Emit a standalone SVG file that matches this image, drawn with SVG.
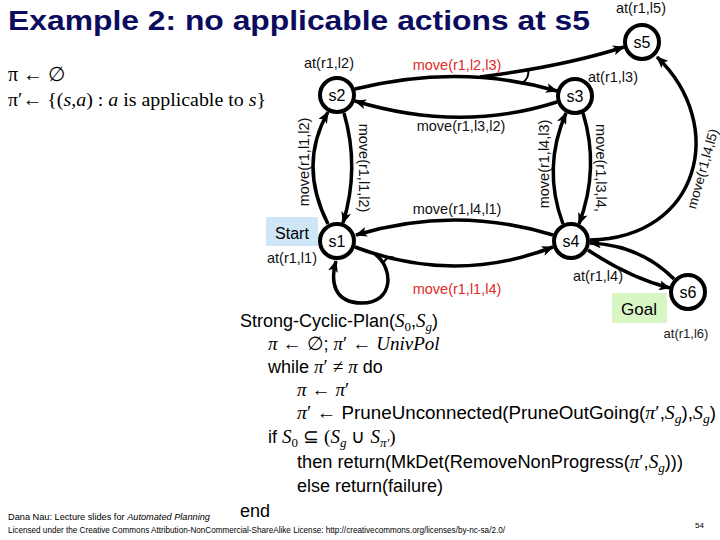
<svg xmlns="http://www.w3.org/2000/svg" width="720" height="540" viewBox="0 0 720 540">
<style>
.lbl{font-family:"Liberation Sans",Arial,sans-serif;font-size:14.5px;fill:#111;text-anchor:middle}
.red{fill:#e02a2a}
.node circle{fill:#fff;stroke:#000;stroke-width:4}
.node text{font-family:"Liberation Sans",Arial,sans-serif;font-size:16px;text-anchor:middle;fill:#000}
.edge{fill:none;stroke:#000;stroke-width:3.5;marker-end:url(#ah)}
.mark{fill:none;stroke:#000;stroke-width:2}
.alg{font-family:"Liberation Sans",Arial,sans-serif;font-size:18px;fill:#000}
.m{font-family:"Liberation Serif","Times New Roman",serif;font-style:italic;font-size:19px}
.r{font-family:"Liberation Serif","Times New Roman",serif;font-size:19px}
.sb{font-family:"Liberation Serif","Times New Roman",serif;font-size:13px}
.sbi{font-family:"Liberation Serif","Times New Roman",serif;font-style:italic;font-size:13px}
.foot{font-family:"Liberation Sans",Arial,sans-serif;font-size:9.5px;fill:#000}
</style>
<defs>
<marker id="ah" viewBox="0 0 12 10" refX="11" refY="5" markerWidth="12" markerHeight="10" markerUnits="userSpaceOnUse" orient="auto">
<path d="M0,0 L12,5 L0,10 L3,5 z" fill="#000"/>
</marker>
</defs>
<rect width="720" height="540" fill="#fff"/>

<text x="8" y="30" textLength="582" lengthAdjust="spacingAndGlyphs" style="font-family:'Liberation Sans',Arial,sans-serif;font-weight:bold;font-size:28px;fill:#0c0c5e">Example 2: no applicable actions at s5</text>

<text x="8" y="81" class="r" style="font-size:20px">π ← ∅</text>
<text x="8" y="106" textLength="258" lengthAdjust="spacingAndGlyphs" class="r" style="font-size:19.5px">π′← {(<tspan font-style="italic">s</tspan>,<tspan font-style="italic">a</tspan>) : <tspan font-style="italic">a</tspan> is applicable to <tspan font-style="italic">s</tspan>}</text>

<g id="connectors">
<path class="edge" d="M355,89 Q460,63 557,91"/>
<path class="edge" d="M480,77 Q565,66 624,47"/>
<path class="mark" d="M522,83 Q530,78 528,69"/>
<path class="edge" d="M557,102 Q460,133 355,101"/>
<path class="edge" d="M328,224 Q298,165 328,112"/>
<path class="edge" d="M344,113 Q360,168 343,223"/>
<path class="edge" d="M563,224 Q542,168 566,113"/>
<path class="edge" d="M583,113 Q600,168 579,224"/>
<path class="edge" d="M553,235 Q455,205 356,235"/>
<path class="edge" d="M355,247 Q455,285 553,247"/>
<path class="edge" d="M375,254 C394,268 394,303 362,303 C334,303 330,282 336,261"/>
<path class="mark" d="M384,262 Q388,255 394,258"/>
<path class="edge" d="M590,240 C700,238 728,125 657,57"/>
<path class="edge" d="M588,250 Q630,278 670,288"/>
<path class="edge" d="M674,279 Q640,245 590,243"/>
</g>

<g id="start"><rect x="266" y="217" width="52" height="29" fill="#cfe6f6"/><text x="292" y="239" style="font-family:'Liberation Sans',Arial,sans-serif;font-size:16px;text-anchor:middle">Start</text></g>
<g id="goal"><rect x="612" y="293" width="55" height="30" fill="#d8f5c4"/><text x="639" y="315" style="font-family:'Liberation Sans',Arial,sans-serif;font-size:17px;text-anchor:middle">Goal</text></g>

<g id="s1" class="node"><circle cx="337" cy="241" r="17"/><text x="337" y="247">s1</text></g>
<g id="s2" class="node"><circle cx="337" cy="95" r="17"/><text x="337" y="101">s2</text></g>
<g id="s3" class="node"><circle cx="575" cy="96" r="17"/><text x="575" y="102">s3</text></g>
<g id="s4" class="node"><circle cx="571" cy="241" r="17"/><text x="571" y="247">s4</text></g>
<g id="s5" class="node"><circle cx="642" cy="42" r="17"/><text x="642" y="48">s5</text></g>
<g id="s6" class="node"><circle cx="688" cy="292" r="17"/><text x="688" y="298">s6</text></g>

<g id="labels">
<text class="lbl" x="329" y="68">at(r1,l2)</text>
<text class="lbl" x="641" y="13">at(r1,l5)</text>
<text class="lbl" x="613" y="82">at(r1,l3)</text>
<text class="lbl" x="292" y="263">at(r1,l1)</text>
<text class="lbl" x="598" y="281">at(r1,l4)</text>
<text class="lbl" x="686" y="338" style="font-size:13px;fill:#222">at(r1,l6)</text>
<text class="lbl red" x="457" y="70">move(r1,l2,l3)</text>
<text class="lbl" x="461" y="131">move(r1,l3,l2)</text>
<text class="lbl" x="457" y="214">move(r1,l4,l1)</text>
<text class="lbl red" x="457" y="294">move(r1,l1,l4)</text>
<text class="lbl" transform="translate(309,162) rotate(-90)">move(r1,l1,l2)</text>
<text class="lbl" transform="translate(359,168) rotate(90)">move(r1,l1,l2)</text>
<text class="lbl" transform="translate(549,164) rotate(-90)">move(r1,l4,l3)</text>
<text class="lbl" transform="translate(596,168) rotate(90)">move(r1,l3,l4,</text>
<text class="lbl" transform="translate(707,170) rotate(-74)" style="font-size:13.5px">move(r1,l4,l5)</text>
</g>

<g id="algorithm">
<text class="alg" x="240" y="327">Strong-Cyclic-Plan(<tspan class="m">S</tspan><tspan class="sb" dy="4">0</tspan><tspan dy="-4">,</tspan><tspan class="m">S</tspan><tspan class="sbi" dy="4">g</tspan><tspan dy="-4">)</tspan></text>
<text class="alg" x="268" y="350"><tspan class="m">π</tspan> <tspan class="r">←</tspan> <tspan class="r">∅</tspan>; <tspan class="m">π</tspan><tspan class="r">′</tspan> <tspan class="r">←</tspan> <tspan class="m">UnivPol</tspan></text>
<text class="alg" x="268" y="373">while <tspan class="m">π</tspan><tspan class="r">′</tspan> <tspan class="r">≠</tspan> <tspan class="m">π</tspan> do</text>
<text class="alg" x="297" y="396"><tspan class="m">π</tspan> <tspan class="r">←</tspan> <tspan class="m">π</tspan><tspan class="r">′</tspan></text>
<text class="alg" x="297" y="419" textLength="419" lengthAdjust="spacingAndGlyphs"><tspan class="m">π</tspan><tspan class="r">′</tspan> <tspan class="r">←</tspan> PruneUnconnected(PruneOutGoing(<tspan class="m">π</tspan><tspan class="r">′</tspan>,<tspan class="m">S</tspan><tspan class="sbi" dy="4">g</tspan><tspan dy="-4">),</tspan><tspan class="m">S</tspan><tspan class="sbi" dy="4">g</tspan><tspan dy="-4">)</tspan></text>
<text class="alg" x="268" y="443">if <tspan class="m">S</tspan><tspan class="sb" dy="4">0</tspan> <tspan class="r" dy="-4">⊆</tspan> <tspan class="r">(</tspan><tspan class="m">S</tspan><tspan class="sbi" dy="4">g</tspan> <tspan class="r" dy="-4">∪</tspan> <tspan class="m">S</tspan><tspan class="sbi" dy="4">π′</tspan><tspan class="r" dy="-4">)</tspan></text>
<text class="alg" x="297" y="468" textLength="386" lengthAdjust="spacingAndGlyphs">then return(MkDet(RemoveNonProgress(<tspan class="m">π</tspan><tspan class="r">′</tspan>,<tspan class="m">S</tspan><tspan class="sbi" dy="4">g</tspan><tspan dy="-4">)))</tspan></text>
<text class="alg" x="297" y="492">else return(failure)</text>
<text class="alg" x="240" y="517">end</text>
</g>

<text class="foot" x="8" y="520" textLength="202" lengthAdjust="spacingAndGlyphs">Dana Nau: Lecture slides for <tspan font-style="italic">Automated Planning</tspan></text>
<text class="foot" x="8" y="533" textLength="497" lengthAdjust="spacingAndGlyphs">Licensed under the Creative Commons Attribution-NonCommercial-ShareAlike License: http://creativecommons.org/licenses/by-nc-sa/2.0/</text>
<text class="foot" x="695" y="528" style="font-size:8px">54</text>
</svg>
